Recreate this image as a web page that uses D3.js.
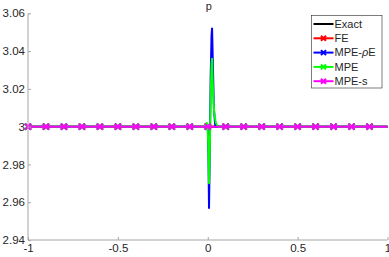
<!DOCTYPE html>
<html>
<head>
<meta charset="utf-8">
<script src="https://cdn.jsdelivr.net/npm/d3@7"></script>
<style>
  body { margin: 0; background: #fff; }
  text { font-family: "Liberation Sans", Arial, sans-serif; fill: #262626; }
</style>
</head>
<body>
<script>
var width = 389, height = 257;

// data
var xTicks = [-1, -0.5, 0, 0.5, 1];
var yTicks = [2.94, 2.96, 2.98, 3, 3.02, 3.04, 3.06];

var exactX = [-1, 1];
var exactY = [3, 3];

// marker positions for the flat series
var markX = [-1, -0.9, -0.8, -0.7, -0.6, -0.5, -0.4, -0.3, -0.2, -0.1,
             0, 0.1, 0.2, 0.3, 0.4, 0.5, 0.6, 0.7, 0.8, 0.9];
var markY = [3, 3, 3, 3, 3, 3, 3, 3, 3, 3, 3, 3, 3, 3, 3, 3, 3, 3, 3, 3];

var feX = [-1, 1];
var feY = [3, 3];

var rhoEX = [-1, -0.01, 0.0, 0.004, 0.007, 0.011, 0.016, 0.021, 0.024, 0.028, 0.034, 0.042, 1];
var rhoEY = [3, 3, 3.0, 2.985, 2.957, 2.985, 3.025, 3.048, 3.052, 3.035, 3.01, 3.0, 3];

var mpeX = [-1, -0.02, -0.012, -0.006, -0.001, 0.003, 0.007, 0.011, 0.016, 0.021, 0.024, 0.029, 0.036, 0.045, 0.056, 1];
var mpeY = [3, 3, 3.001, 3.002, 3.0015, 2.99, 2.970, 2.985, 3.015, 3.033, 3.036, 3.02, 3.007, 3.002, 3.0, 3];

var mpesX = [-1, 1];
var mpesY = [3, 3];

var names = ["Exact", "FE", "MPE-\u03C1E", "MPE", "MPE-s"];
var colors = ["#000000", "#ff0000", "#0000ff", "#00ff00", "#ff00ff"];

var padLeft = 28, padRight = 387.5, padTop = 13.3, padBottom = 240;

var xScale = d3.scaleLinear().domain([-1, 1]).range([padLeft, padRight]);
var yScale = d3.scaleLinear().domain([2.94, 3.06]).range([padBottom, padTop]);

var svg = d3.select("body").append("svg")
    .attr("width", width)
    .attr("height", height);

var line = d3.line()
    .x(function (d) { return xScale(d[0]); })
    .y(function (d) { return yScale(d[1]); });

function zip(a, b) {
    return a.map(function (v, i) { return [v, b[i]]; });
}

function cross(g, cx, cy, s, color) {
    g.append("path")
        .attr("d", "M" + (cx - s) + "," + (cy - s) + "L" + (cx + s) + "," + (cy + s) +
                   "M" + (cx - s) + "," + (cy + s) + "L" + (cx + s) + "," + (cy - s))
        .attr("stroke", color)
        .attr("stroke-width", 2)
        .attr("fill", "none");
}

function drawMarkers(color) {
    var g = svg.append("g");
    zip(markX, markY).forEach(function (p) {
        cross(g, xScale(p[0]), yScale(p[1]), 3, color);
    });
}

var series = [
    { x: exactX, y: exactY, marker: false },
    { x: feX, y: feY, marker: true },
    { x: rhoEX, y: rhoEY, marker: true },
    { x: mpeX, y: mpeY, marker: true },
    { x: mpesX, y: mpesY, marker: true }
];

series.forEach(function (s, i) {
    svg.append("path")
        .attr("d", line(zip(s.x, s.y)))
        .attr("fill", "none")
        .attr("stroke", colors[i])
        .attr("stroke-width", 2)
        .attr("stroke-linejoin", "round");
    if (s.marker) drawMarkers(colors[i]);
});

// axes
var axisColor = "#a6a6a6";
var xAxis = d3.axisBottom(xScale).tickValues(xTicks).tickSize(-3)
    .tickFormat(function (d) { return String(d); });
var gx = svg.append("g")
    .attr("transform", "translate(0," + padBottom + ")")
    .call(xAxis);
gx.select(".domain").attr("stroke", axisColor).attr("d", "M" + padLeft + ",0H" + padRight);
gx.selectAll(".tick line").attr("stroke", axisColor);
gx.selectAll(".tick text").attr("y", 4).attr("dy", "0.71em")
    .style("font-size", "11.5px").attr("fill", "#262626");

var yAxis = d3.axisLeft(yScale).tickValues(yTicks).tickSize(-3)
    .tickFormat(function (d) { return String(+d.toFixed(2)); });
var gy = svg.append("g")
    .attr("transform", "translate(" + padLeft + ",0)")
    .call(yAxis);
gy.select(".domain").attr("stroke", axisColor).attr("d", "M0," + padTop + "V" + padBottom);
gy.selectAll(".tick line").attr("stroke", axisColor);
gy.selectAll(".tick text").attr("x", -3)
    .style("font-size", "11.5px").attr("fill", "#262626");
svg.selectAll(".domain, .tick line").attr("stroke-width", 1);

// title
svg.append("text")
    .attr("x", (padLeft + padRight) / 2 + 1)
    .attr("y", 9.5)
    .attr("text-anchor", "middle")
    .style("font-size", "11px")
    .text("p");

// legend
var lg = svg.append("g");
lg.append("rect")
    .attr("x", 311.5).attr("y", 15.5)
    .attr("width", 70.5).attr("height", 72.5)
    .attr("fill", "#fff")
    .attr("stroke", "#262626")
    .attr("stroke-width", 0.6);

names.forEach(function (n, i) {
    var y = 24 + i * 14.3;
    lg.append("line")
        .attr("x1", 313.5).attr("x2", 333.5)
        .attr("y1", y).attr("y2", y)
        .attr("stroke", colors[i])
        .attr("stroke-width", 2);
    if (i > 0) cross(lg, 323.5, y, 2.5, colors[i]);
    var t = lg.append("text")
        .attr("x", 334.5)
        .attr("y", y)
        .attr("dy", "0.35em")
        .style("font-size", "11px");
    if (i === 2) {
        t.append("tspan").text("MPE-");
        t.append("tspan").style("font-style", "italic").text("\u03C1");
        t.append("tspan").text("E");
    } else {
        t.text(n);
    }
});
</script>
</body>
</html>
